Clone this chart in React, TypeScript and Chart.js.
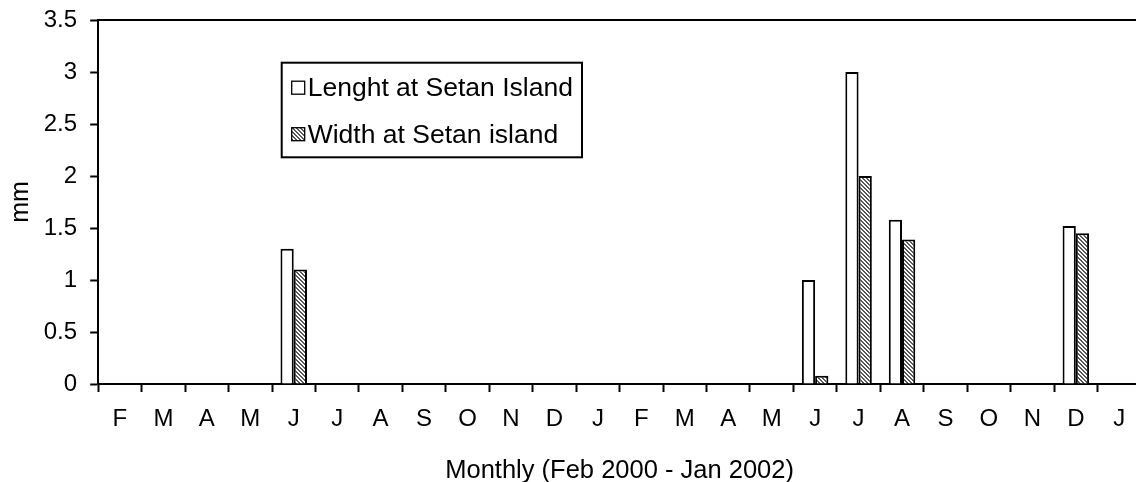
import React, { useEffect, useRef } from 'react';
import { Chart, registerables } from 'chart.js';

Chart.register(...registerables);

const months = ['F', 'M', 'A', 'M', 'J', 'J', 'A', 'S', 'O', 'N', 'D', 'J', 'F', 'M', 'A', 'M', 'J', 'J', 'A', 'S', 'O', 'N', 'D', 'J'];
const lengthSetan = [null, null, null, null, 1.3, null, null, null, null, null, null, null, null, null, null, null, 1.0, 3.0, 1.58, null, null, null, 1.52, null];
const widthSetan = [null, null, null, null, 1.1, null, null, null, null, null, null, null, null, null, null, null, 0.08, 2.0, 1.39, null, null, null, 1.45, null];
const yTickLabels = ['0', '0.5', '1', '1.5', '2', '2.5', '3', '3.5'];
const seriesLabels = ['Lenght at Setan Island', 'Width at Setan island'];
const xTitle = 'Monthly (Feb 2000 - Jan 2002)';
const yTitle = 'mm';

const FONT = '"Liberation Sans", Arial, Helvetica, sans-serif';

function makeHatch(): CanvasPattern | string {
  const c = document.createElement('canvas');
  c.width = 4;
  c.height = 4;
  const g = c.getContext('2d');
  if (!g) return '#aaa';
  g.fillStyle = '#ffffff';
  g.fillRect(0, 0, 4, 4);
  g.fillStyle = '#5a5a5a';
  for (let y = 0; y < 4; y++) {
    for (let x = 0; x < 4; x++) {
      if ((x - y + 8) % 4 < 2) g.fillRect(x, y, 1, 1);
    }
  }
  return g.createPattern(c, 'repeat') || '#aaa';
}

const framePlugin = {
  id: 'frameTop',
  afterDraw(chart: any) {
    const { ctx, chartArea } = chart;
    ctx.save();
    ctx.strokeStyle = '#000';
    ctx.lineWidth = 2;
    ctx.beginPath();
    ctx.moveTo(chartArea.left, chartArea.top);
    ctx.lineTo(chartArea.right, chartArea.top);
    ctx.lineTo(chartArea.right, chartArea.bottom);
    ctx.stroke();
    ctx.restore();
  },
};

const boxLegendPlugin = {
  id: 'boxLegend',
  afterDraw(chart: any) {
    const { ctx, chartArea } = chart;
    const bx = chartArea.left + 183.5;
    const by = chartArea.top + 42.7;
    const bw = 300.3;
    const bh = 94.6;
    ctx.save();
    ctx.fillStyle = '#fff';
    ctx.fillRect(bx, by, bw, bh);
    ctx.strokeStyle = '#000';
    ctx.lineWidth = 2;
    ctx.strokeRect(bx, by, bw, bh);
    const rows = [by + 25, by + 71.5];
    chart.data.datasets.forEach((ds: any, i: number) => {
      const cy = rows[i];
      const sx = bx + 10;
      const sz = 13;
      ctx.fillStyle = ds.backgroundColor;
      ctx.fillRect(sx, cy - sz / 2, sz, sz);
      ctx.lineWidth = 1.3;
      ctx.strokeStyle = '#000';
      ctx.strokeRect(sx, cy - sz / 2, sz, sz);
      ctx.fillStyle = '#000';
      ctx.font = `26.5px ${FONT}`;
      ctx.textAlign = 'left';
      ctx.textBaseline = 'middle';
      ctx.fillText(ds.label, bx + 26, cy + 1);
    });
    ctx.restore();
  },
};

export default function App() {
  const ref = useRef<HTMLCanvasElement | null>(null);

  useEffect(() => {
    if (!ref.current) return;
    Chart.defaults.font.family = FONT;
    Chart.defaults.color = '#000';
    const hatch = makeHatch();
    const chart = new Chart(ref.current, {
      type: 'bar',
      data: {
        labels: months,
        datasets: [
          {
            label: seriesLabels[0],
            data: lengthSetan,
            backgroundColor: '#ffffff',
            borderColor: '#000000',
            borderWidth: 2,
          },
          {
            label: seriesLabels[1],
            data: widthSetan,
            backgroundColor: hatch as any,
            borderColor: '#000000',
            borderWidth: 2,
          },
        ],
      },
      options: {
        animation: false,
        responsive: false,
        devicePixelRatio: 1,
        layout: { padding: { top: 20, right: 7, bottom: 0, left: 0 } },
        plugins: {
          legend: { display: false },
          tooltip: { enabled: false },
        },
        datasets: {
          bar: { categoryPercentage: 0.61, barPercentage: 1 },
        },
        scales: {
          x: {
            grid: {
              display: true,
              drawOnChartArea: false,
              drawTicks: true,
              tickLength: 8,
              tickWidth: 2,
              tickColor: '#000',
              offset: true,
            },
            border: { display: true, color: '#000', width: 2 },
            ticks: {
              color: '#000',
              font: { size: 24, lineHeight: 1.2 },
              padding: 12.6,
              maxRotation: 0,
              autoSkip: false,
            },
            title: {
              display: true,
              text: xTitle,
              color: '#000',
              font: { size: 25.5, lineHeight: 1.2 },
              padding: { top: 0, bottom: -4 },
            },
            afterFit: (s: any) => {
              s.height = 98;
            },
          },
          y: {
            min: 0,
            max: 3.5,
            grid: {
              display: true,
              drawOnChartArea: false,
              drawTicks: true,
              tickLength: 8,
              tickWidth: 2,
              tickColor: '#000',
            },
            border: { display: true, color: '#000', width: 2 },
            ticks: {
              stepSize: 0.5,
              color: '#000',
              font: { size: 24, lineHeight: 1.2 },
              padding: 13.2,
              callback: (_v: any, i: number) => yTickLabels[i],
            },
            title: {
              display: true,
              text: yTitle,
              color: '#000',
              font: { size: 25, lineHeight: 1.2 },
              padding: { top: 6.5, bottom: 0 },
            },
            afterFit: (s: any) => {
              s.width = 98.2;
              s.paddingTop = 0;
              s.paddingBottom = 0;
            },
          },
        },
      } as any,
      plugins: [framePlugin, boxLegendPlugin],
    });
    return () => chart.destroy();
  }, []);

  return (
    <div
      style={{
        position: 'fixed',
        left: 0,
        top: 0,
        width: 1136,
        height: 482,
        overflow: 'hidden',
        background: '#fff',
      }}
    >
      <canvas ref={ref} width={1148} height={482} style={{ display: 'block' }} />
    </div>
  );
}
